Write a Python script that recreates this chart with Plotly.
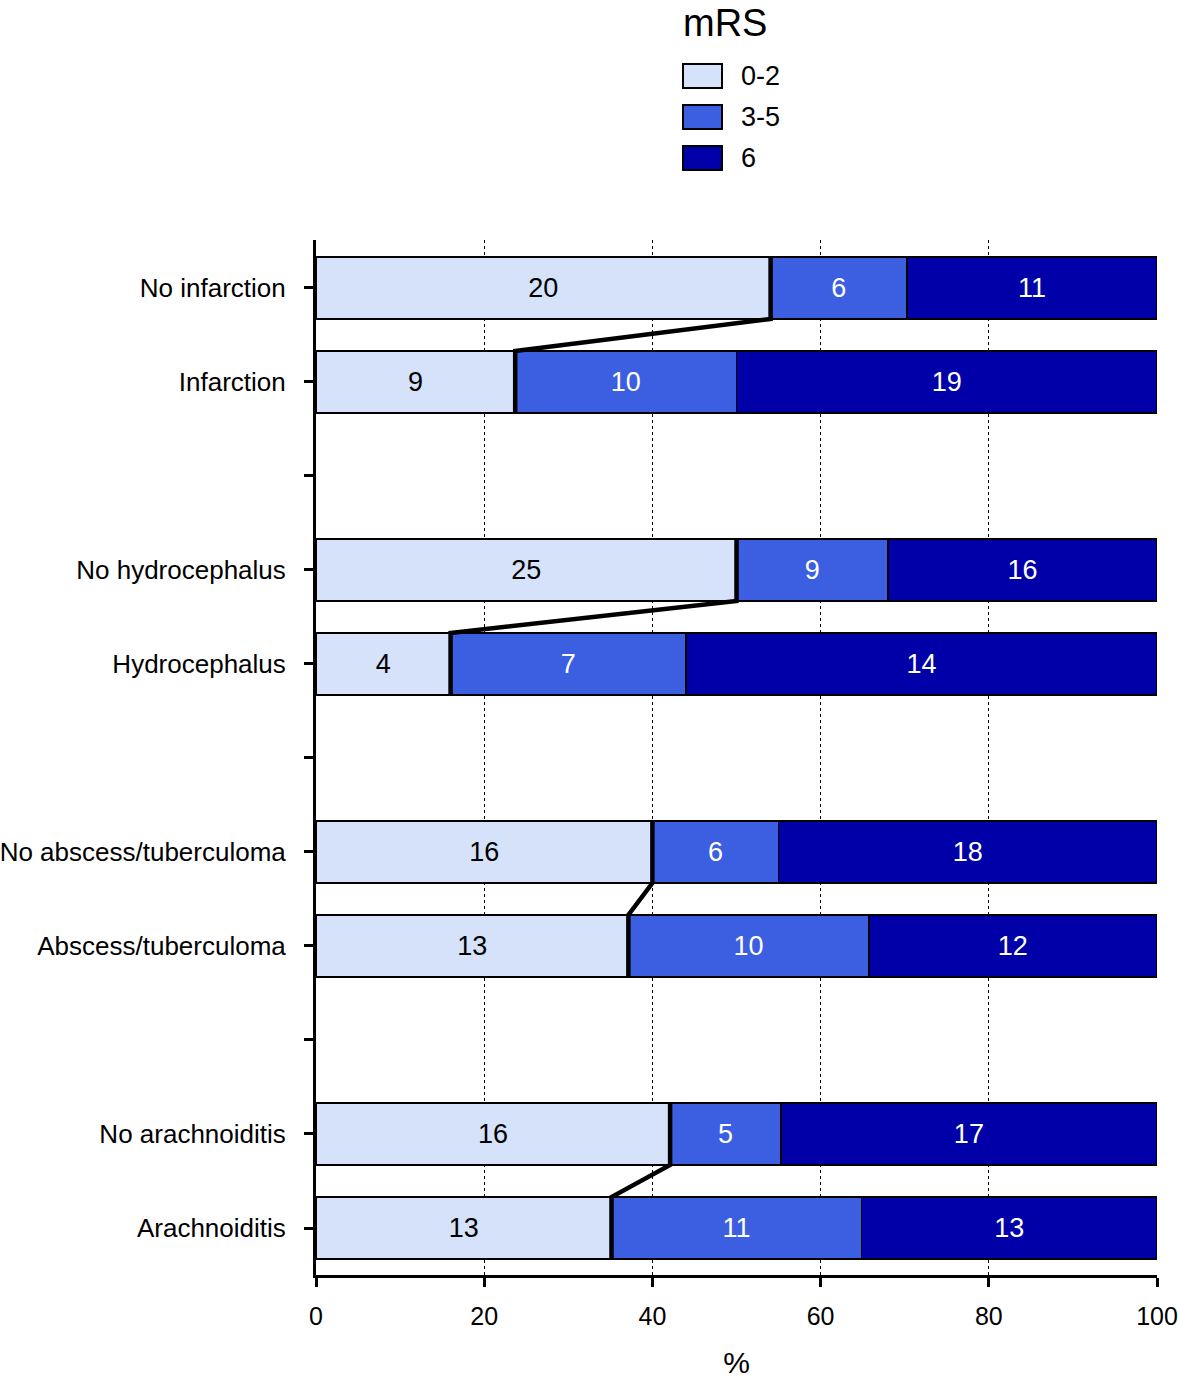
import plotly.graph_objects as go

categories = ["No infarction", "Infarction", "", "No hydrocephalus", "Hydrocephalus", "",
              "No abscess/tuberculoma", "Abscess/tuberculoma", "",
              "No arachnoiditis", "Arachnoiditis"]
mrs_0_2 = [20, 9, None, 25, 4, None, 16, 13, None, 16, 13]
mrs_3_5 = [6, 10, None, 9, 7, None, 6, 10, None, 5, 11]
mrs_6 = [11, 19, None, 16, 14, None, 18, 12, None, 17, 13]
series_names = ["0-2", "3-5", "6"]
colors = ["#D5E2F9", "#3C5EE0", "#0000A8"]
text_colors = ["black", "white", "white"]
x_ticks = [0, 20, 40, 60, 80, 100]

W, H = 1178, 1379
# plot area in page pixels
L, R, T, B = 316, 1157, 240, 1275

def px2x(px):
    return (px - L) / (R - L)

def px2y(py):
    return (B - py) / (B - T)

pos = list(range(len(categories)))
series = [mrs_0_2, mrs_3_5, mrs_6]
pcts = []
for i in pos:
    if mrs_0_2[i] is None:
        pcts.append(None)
        continue
    tot = mrs_0_2[i] + mrs_3_5[i] + mrs_6[i]
    pcts.append([100 * s[i] / tot for s in series])

FONT = "Liberation Sans, Arial, Helvetica"
fig = go.Figure()
bar_w = 0.66
for k, name in enumerate(series_names):
    ys, xs, ts = [], [], []
    for i in pos:
        if pcts[i] is None:
            continue
        ys.append(i)
        xs.append(pcts[i][k])
        ts.append(str(series[k][i]))
    fig.add_trace(go.Bar(
        y=ys, x=xs, orientation="h", name=name, width=bar_w,
        marker=dict(color=colors[k], line=dict(color="black", width=1.8)),
        text=ts, textposition="inside", insidetextanchor="middle",
        textfont=dict(color=text_colors[k], size=27, family=FONT),
        showlegend=False, hoverinfo="skip"))

# connector lines between pairs at 0-2 boundary
pairs = [(0, 1), (3, 4), (6, 7), (9, 10)]
for a, b in pairs:
    pa, pb = pcts[a][0], pcts[b][0]
    fig.add_trace(go.Scatter(
        x=[pa, pa, pb, pb],
        y=[a - bar_w / 2, a + bar_w / 2, b - bar_w / 2, b + bar_w / 2],
        mode="lines", line=dict(color="black", width=4.5),
        showlegend=False, hoverinfo="skip"))

fig.update_layout(
    barmode="stack",
    width=W, height=H,
    margin=dict(l=L, r=W - R, t=T, b=H - B, pad=0, autoexpand=False),
    plot_bgcolor="white", paper_bgcolor="white",
    font=dict(family=FONT, size=26, color="black"),
    showlegend=False,
)
fig.update_xaxes(
    range=[0, 100], tickvals=x_ticks, ticktext=[str(v) for v in x_ticks],
    showgrid=True, gridcolor="black", griddash="dot", gridwidth=1,
    showline=True, linecolor="black", linewidth=3,
    ticks="outside", ticklen=9, tickwidth=3, tickcolor="black",
    tickfont=dict(size=25), ticklabelstandoff=8,
    title=dict(text="%", font=dict(size=30), standoff=40),
    zeroline=False, automargin=False,
)
fig.update_yaxes(
    range=[10.5, -0.51], tickvals=pos, ticktext=categories,
    showgrid=False, showline=True, linecolor="black", linewidth=3,
    ticks="outside", ticklen=9, tickwidth=3, tickcolor="black",
    tickfont=dict(size=26), ticklabelstandoff=13, zeroline=False,
    automargin=False,
)

# manual legend
fig.add_annotation(x=px2x(681), y=px2y(23), xref="paper", yref="paper",
                   text="mRS", showarrow=False, xanchor="left", yanchor="middle",
                   font=dict(size=38))
box_tops = [64, 105, 146]
for k, name in enumerate(series_names):
    y0 = box_tops[k]
    fig.add_shape(type="rect", xref="paper", yref="paper",
                  x0=px2x(683), x1=px2x(722), y0=px2y(y0 + 24), y1=px2y(y0),
                  fillcolor=colors[k], line=dict(color="black", width=2))
    fig.add_annotation(x=px2x(739), y=px2y(y0 + 12), xref="paper", yref="paper",
                       text=name, showarrow=False, xanchor="left", yanchor="middle",
                       font=dict(size=27))

fig.write_html("out.html", config={"displayModeBar": False},
               post_script="document.body.style.margin='0';")
